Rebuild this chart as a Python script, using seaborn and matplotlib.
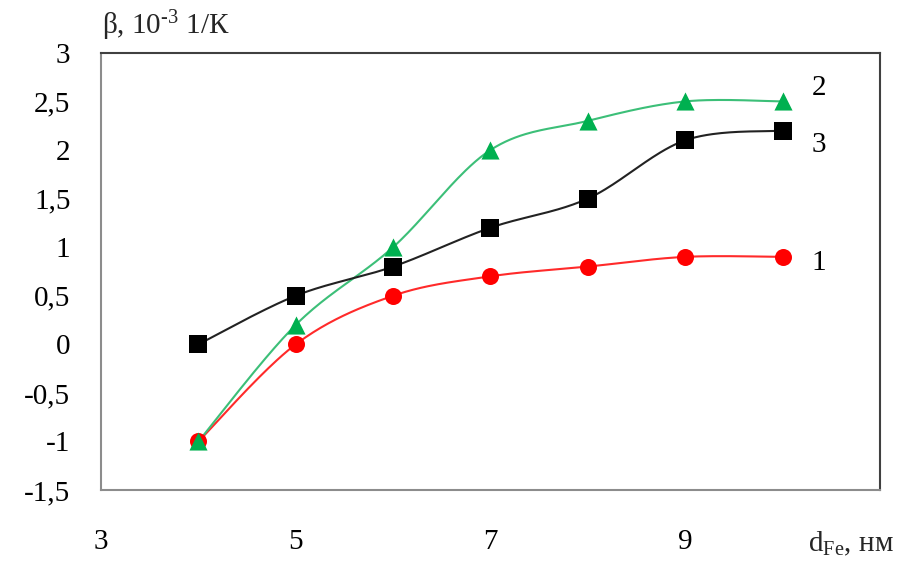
import numpy as np
import pandas as pd
import matplotlib
matplotlib.use("Agg")
import matplotlib.pyplot as plt
import seaborn as sns

# Film thickness, nm
d_fe = [4, 5, 6, 7, 8, 9, 10]
# Temperature coefficient beta, 10^-3 1/K, per sample
beta_1 = [-1.0, 0.0, 0.5, 0.7, 0.8, 0.9, 0.9]
beta_2 = [-1.0, 0.2, 1.0, 2.0, 2.3, 2.5, 2.5]
beta_3 = [0.0, 0.5, 0.8, 1.2, 1.5, 2.1, 2.2]

series_names = ["1", "2", "3"]
series_colors = {"1": "#FF0000", "2": "#00B050", "3": "#000000"}
line_colors = {"1": "#FF2A2A", "2": "#3CBF78", "3": "#222222"}
series_markers = {"1": "o", "2": "^", "3": "s"}

x_ticks = [3, 5, 7, 9]
y_ticks = [-1.5, -1, -0.5, 0, 0.5, 1, 1.5, 2, 2.5, 3]


def smooth_curve(xs, ys, n=40):
    """Cubic Bezier smoothing through all points (spreadsheet-style)."""
    p = np.column_stack([xs, ys]).astype(float)
    ext = np.vstack([p[0], p, p[-1]])
    out = []
    t = np.linspace(0, 1, n)[:, None]
    for i in range(len(p) - 1):
        p0, p1, p2, p3 = ext[i], ext[i + 1], ext[i + 2], ext[i + 3]
        c1 = p1 + (p2 - p0) / 6.0
        c2 = p2 - (p3 - p1) / 6.0
        seg = ((1 - t) ** 3) * p1 + 3 * ((1 - t) ** 2) * t * c1 + 3 * (1 - t) * t ** 2 * c2 + t ** 3 * p2
        out.append(seg if i == 0 else seg[1:])
    seg = np.vstack(out)
    return seg[:, 0], seg[:, 1]


sns.set_theme(style="white")
plt.rcParams["font.family"] = ["Liberation Serif", "DejaVu Serif"]
plt.rcParams["mathtext.fontset"] = "custom"
plt.rcParams["mathtext.rm"] = "Liberation Serif"
plt.rcParams["mathtext.it"] = "Liberation Serif"

fig = plt.figure(figsize=(9.10, 5.62), dpi=100)
ax = fig.add_axes([0.111, 0.128, 0.856, 0.778])

points = pd.DataFrame({
    "d": d_fe * 3,
    "beta": beta_1 + beta_2 + beta_3,
    "series": sum([[s] * len(d_fe) for s in series_names], []),
})

curves = []
for name, vals in zip(series_names, [beta_1, beta_2, beta_3]):
    cx, cy = smooth_curve(d_fe, vals)
    curves.append(pd.DataFrame({"d": cx, "beta": cy, "series": name}))
curves = pd.concat(curves, ignore_index=True)

for name in ["1", "2", "3"]:
    sub = curves[curves["series"] == name]
    sns.lineplot(data=sub, x="d", y="beta", sort=False, ax=ax, color=line_colors[name],
                 linewidth=1.5, legend=False, zorder=2)

marker_sizes = {"1": 150, "2": 170, "3": 160}
for name in ["1", "2", "3"]:
    sub = points[points["series"] == name]
    sns.scatterplot(data=sub, x="d", y="beta", ax=ax, color=series_colors[name],
                    marker=series_markers[name], s=marker_sizes[name], linewidth=0,
                    legend=False, zorder=3)

ax.set_xlim(3, 11)
ax.set_ylim(-1.5, 3)
ax.set_xticks([3, 5, 7, 9, 11])
ax.set_xticklabels([str(v) for v in x_ticks] + [""])
ax.set_yticks(y_ticks)
ax.set_yticklabels([("%g" % v).replace(".", ",") for v in y_ticks])
ax.set_xlabel("")
ax.set_ylabel("")

ax.tick_params(axis="both", direction="in", length=8, width=1.2, color="#8C8C8C",
               labelsize=21, labelcolor="black")
ax.tick_params(axis="x", pad=28)
ax.tick_params(axis="y", pad=22)
ax.tick_params(top=False, right=False)

for side in ["left", "bottom"]:
    ax.spines[side].set_color("#8C8C8C")
    ax.spines[side].set_linewidth(1.5)
for side in ["top", "right"]:
    ax.spines[side].set_color("#404040")
    ax.spines[side].set_linewidth(1.5)
    ax.spines[side].set_visible(True)

# Curve numbers at the right end
label_pos = {"2": 2.64, "3": 2.05, "1": 0.84}
for name, yv in label_pos.items():
    ax.text(10.3, yv, name, fontsize=21, ha="left", va="center", color="black")

fig.text(0.112, 0.955, r"β, 10$^{\text{-}3}$ 1/К", fontsize=21, ha="left", va="center")
fig.text(0.888, 0.032, r"d$_{\mathrm{Fe}}$, нм", fontsize=21, ha="left", va="center")

fig.savefig("out.png", dpi=100)
